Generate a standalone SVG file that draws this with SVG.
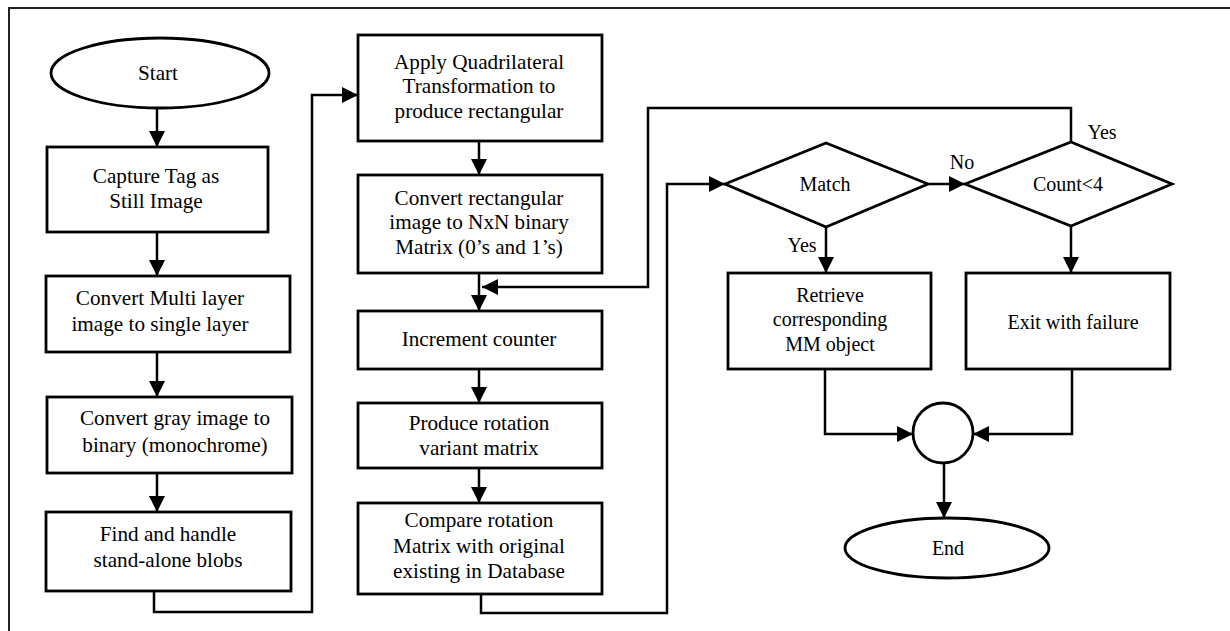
<svg xmlns="http://www.w3.org/2000/svg" width="1230" height="631" viewBox="0 0 1230 631">
<style>
.n{fill:#fff;stroke:#000;stroke-width:2.8}
.t{font-family:"Liberation Serif","Times New Roman",serif;font-size:20px;fill:#000;text-anchor:middle}
.b{font-size:21.2px}
.c{fill:none;stroke:#000;stroke-width:2.5}
.f{fill:none;stroke:#222;stroke-width:2}
</style>
<defs>
<marker id="ah" markerUnits="userSpaceOnUse" markerWidth="18" markerHeight="18" refX="16" refY="8" orient="auto"><path d="M0,0 L16,8 L0,16 z" fill="#000"/></marker>
</defs>
<rect width="1230" height="631" fill="#fff"/>
<path class="f" d="M9,631 V8 H1230"/>
<g id="start"><ellipse class="n" cx="160" cy="73" rx="109" ry="35"/><text class="t b" x="158" y="80">Start</text></g>
<g id="capture"><rect class="n" x="47" y="147" width="221" height="85"/><text class="t b" x="156" y="183">Capture Tag as</text><text class="t b" x="156" y="208">Still Image</text></g>
<g id="multilayer"><rect class="n" x="46" y="276" width="244" height="76"/><text class="t b" x="160" y="305">Convert Multi layer</text><text class="t b" x="160" y="331">image to single layer</text></g>
<g id="binary"><rect class="n" x="47" y="397" width="245" height="76"/><text class="t b" x="175" y="425">Convert gray image to</text><text class="t b" x="175" y="452">binary (monochrome)</text></g>
<g id="blobs"><rect class="n" x="46" y="512" width="245" height="79"/><text class="t b" x="168" y="541">Find and handle</text><text class="t b" x="168" y="567">stand-alone blobs</text></g>
<g id="quad"><rect class="n" x="358" y="35" width="244" height="106"/><text class="t b" x="479" y="69">Apply Quadrilateral</text><text class="t b" x="479" y="93">Transformation to</text><text class="t b" x="479" y="118">produce rectangular</text></g>
<g id="nxn"><rect class="n" x="358" y="175" width="244" height="98"/><text class="t b" x="479" y="205">Convert rectangular</text><text class="t b" x="479" y="229">image to NxN binary</text><text class="t b" x="479" y="254">Matrix (0’s and 1’s)</text></g>
<g id="increment"><rect class="n" x="358" y="311" width="244" height="58"/><text class="t b" x="479" y="346">Increment counter</text></g>
<g id="rotation"><rect class="n" x="358" y="403" width="244" height="65"/><text class="t b" x="479" y="430">Produce rotation</text><text class="t b" x="479" y="455">variant matrix</text></g>
<g id="compare"><rect class="n" x="358" y="503" width="244" height="91"/><text class="t b" x="479" y="527">Compare rotation</text><text class="t b" x="479" y="553">Matrix with original</text><text class="t b" x="479" y="578">existing in Database</text></g>
<g id="match"><polygon class="n" points="725,184 826,143 928,184 826,227"/><text class="t" x="825" y="191">Match</text></g>
<g id="count"><polygon class="n" points="965,184 1071,142 1172,184 1071,226"/><text class="t" x="1068" y="191">Count&lt;4</text></g>
<g id="retrieve"><rect class="n" x="728" y="273" width="203" height="96"/><text class="t" x="830" y="302">Retrieve</text><text class="t" x="830" y="326">corresponding</text><text class="t" x="830" y="351">MM object</text></g>
<g id="exit"><rect class="n" x="966" y="273" width="204" height="96"/><text class="t" x="1073" y="329">Exit with failure</text></g>
<g id="join"><circle class="n" cx="943" cy="433" r="30"/></g>
<g id="end"><ellipse class="n" cx="947" cy="548" rx="102" ry="30"/><text class="t" x="948" y="555">End</text></g>
<g id="connectors">
<path class="c" marker-end="url(#ah)" d="M157,108 V147"/>
<path class="c" marker-end="url(#ah)" d="M157,232 V276"/>
<path class="c" marker-end="url(#ah)" d="M157,352 V397"/>
<path class="c" marker-end="url(#ah)" d="M157,473 V512"/>
<path class="c" marker-end="url(#ah)" d="M154,591 V612 H312 V95 H358"/>
<path class="c" marker-end="url(#ah)" d="M479,141 V175"/>
<path class="c" marker-end="url(#ah)" d="M479,273 V311"/>
<path class="c" marker-end="url(#ah)" d="M479,369 V403"/>
<path class="c" marker-end="url(#ah)" d="M479,468 V503"/>
<path class="c" marker-end="url(#ah)" d="M481,594 V613 H667 V184 H725"/>
<path class="c" marker-end="url(#ah)" d="M928,184 H965"/>
<path class="c" marker-end="url(#ah)" d="M1071,142 V108 H648 V287 H482"/>
<path class="c" marker-end="url(#ah)" d="M826,227 V273"/>
<path class="c" marker-end="url(#ah)" d="M1071,226 V273"/>
<path class="c" marker-end="url(#ah)" d="M825,369 V434 H913"/>
<path class="c" marker-end="url(#ah)" d="M1072,369 V434 H973"/>
<path class="c" marker-end="url(#ah)" d="M944,463 V518"/>
<text class="t" x="962" y="169">No</text>
<text class="t" x="1102" y="139">Yes</text>
<text class="t" x="802" y="252">Yes</text>
</g>
</svg>
